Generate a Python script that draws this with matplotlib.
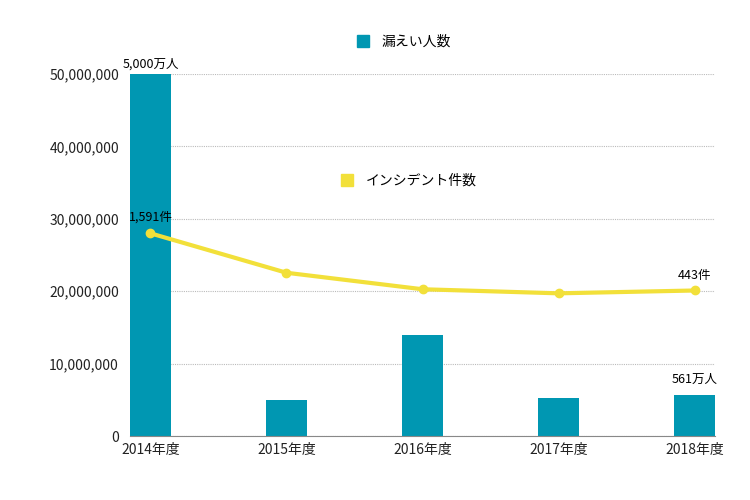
import matplotlib
matplotlib.use("Agg")
import matplotlib.pyplot as plt
from matplotlib.lines import Line2D

plt.rcParams["font.family"] = "Noto Sans CJK JP"

categories = ["2014年度", "2015年度", "2016年度", "2017年度", "2018年度"]
leaks = [50000000, 5000000, 14000000, 5300000, 5610000]
incidents = [1591, 799, 468, 386, 443]

fig = plt.figure(figsize=(7.5, 5), dpi=100)
ax = fig.add_axes([130/750, 1-436/500, 585/750, 362/500])
x = range(len(categories))
bc = "#0097B2"
lc = "#F2E03A"
ax.bar(x, leaks, width=0.3, color=bc, zorder=2)
ax.set_xlim(-0.15, 4.15)
ax.set_ylim(0, 50000000)
ax.set_yticks(range(0, 50000001, 10000000))
ax.set_yticklabels([f"{v:,}" for v in range(0, 50000001, 10000000)])
ax.set_xticks(list(x))
ax.set_xticklabels(categories)
ax.tick_params(length=0, labelsize=10, colors="#222222")
ax.tick_params(axis="y", pad=8)
ax.tick_params(axis="x", pad=5)
ax.yaxis.grid(True, color="#bbbbbb", linestyle=(0, (1, 1)), linewidth=0.8, zorder=0)
for s in ax.spines.values():
    s.set_visible(False)
ax.spines["bottom"].set_visible(True)
ax.spines["bottom"].set_color("#888888")
ax.text(0, leaks[0] + 500000, "5,000万人", ha="center", va="bottom", fontsize=9)
ax.text(4, leaks[4] + 1300000, "561万人", ha="center", va="bottom", fontsize=9)

ax2 = ax.twinx()
ax2.set_ylim(-2478, 4789)
ax2.axis("off")
ax2.plot(list(x), incidents, color=lc, linewidth=3, marker="o", markersize=6, zorder=3)
ax2.text(0, incidents[0] + 190, "1,591件", ha="center", va="bottom", fontsize=9)
ax2.text(4, incidents[4] + 170, "443件", ha="center", va="bottom", fontsize=9)

fig.legend(handles=[Line2D([], [], marker="s", color=bc, linestyle="", markersize=8)],
           labels=["漏えい人数"], loc="center", bbox_to_anchor=(400/750, 1-42/500),
           frameon=False, fontsize=10, handletextpad=0.3)
fig.legend(handles=[Line2D([], [], marker="s", color=lc, linestyle="", markersize=8)],
           labels=["インシデント件数"], loc="center", bbox_to_anchor=(405/750, 1-181/500),
           frameon=False, fontsize=10, handletextpad=0.3)
fig.savefig("out.png", dpi=100)
